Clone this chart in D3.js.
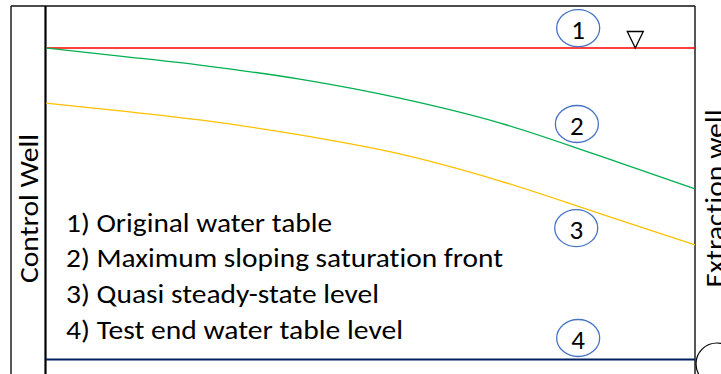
<!DOCTYPE html>
<html>
<head>
<meta charset="utf-8">
<script src="https://cdn.jsdelivr.net/npm/d3@7"></script>
<style>
  html, body { margin: 0; padding: 0; background: #fff; }
  svg { display: block; }
  text { font-family: Carlito, Calibri, Lato, "Open Sans", sans-serif; fill: #000;
         font-variant-ligatures: none; font-feature-settings: "liga" 0, "clig" 0; }
</style>
</head>
<body>
<svg id="chart" width="721" height="374"></svg>
<script>
// ---- data (distance from control well in %, level in % of original head) ----
const distance = [0, 11.4, 23.7, 39.1, 54.5, 70, 85, 100];
const originalTable = [100, 100, 100, 100, 100, 100, 100, 100];
const maxSlopingFront = [100, 97.4, 94.5, 90.0, 83.9, 75.9, 65.6, 54.8];
const quasiSteady = [82.3, 79.8, 76.9, 72.1, 66.0, 57.3, 47.1, 36.8];
const testEndLevel = [0, 0, 0, 0, 0, 0, 0, 0];
const seriesNames = ["1", "2", "3", "4"];
const legendLabels = [
  "1) Original water table",
  "2) Maximum sloping saturation front",
  "3) Quasi steady-state level",
  "4) Test end water table level"
];
const leftWellLabel = "Control Well";
const rightWellLabel = "Extraction well";

// ---- layout ----
const svg = d3.select("#chart");
const x = d3.scaleLinear().domain([0, 100]).range([46, 695]);
const y = d3.scaleLinear().domain([0, 100]).range([359.5, 48]);

// frame
svg.append("line").attr("x1", 11).attr("x2", 695).attr("y1", 6).attr("y2", 6)
  .attr("stroke", "#111").attr("stroke-width", 1.4);
svg.append("line").attr("x1", 11).attr("x2", 11).attr("y1", 6).attr("y2", 374)
  .attr("stroke", "#111").attr("stroke-width", 1.4);
svg.append("line").attr("x1", 695).attr("x2", 695).attr("y1", 6).attr("y2", 374)
  .attr("stroke", "#111").attr("stroke-width", 1.4);
svg.append("line").attr("x1", 45.5).attr("x2", 45.5).attr("y1", 6).attr("y2", 374)
  .attr("stroke", "#000").attr("stroke-width", 2.2);

// series
const series = [
  { name: seriesNames[0], values: originalTable, color: "#FF0000", width: 1.5 },
  { name: seriesNames[1], values: maxSlopingFront, color: "#00B050", width: 1.3 },
  { name: seriesNames[2], values: quasiSteady, color: "#FFC000", width: 1.3 },
  { name: seriesNames[3], values: testEndLevel, color: "#002060", width: 2.2 }
];
const line = d3.line()
  .x(d => x(d[0]))
  .y(d => y(d[1]))
  .curve(d3.curveMonotoneX);

svg.append("g").selectAll("path")
  .data(series)
  .join("path")
  .attr("d", s => line(distance.map((dv, i) => [dv, s.values[i]])))
  .attr("fill", "none")
  .attr("stroke", s => s.color)
  .attr("stroke-width", s => s.width);

// water table symbol (inverted triangle)
const tx = x(90.8), ty = y(100);
svg.append("path")
  .attr("d", `M${tx - 8},${ty - 16.5} L${tx + 8},${ty - 16.5} L${tx},${ty} Z`)
  .attr("fill", "#fff").attr("stroke", "#000").attr("stroke-width", 1.3);

// numbered ellipses
const markerPos = [[82, 106.4], [81.8, 75.6], [81.7, 42.2], [82, 6.9]];
const mk = svg.append("g").selectAll("g")
  .data(series.map((s, i) => ({ name: s.name, pos: markerPos[i] })))
  .join("g")
  .attr("transform", d => `translate(${x(d.pos[0])},${y(d.pos[1])})`);
mk.append("ellipse").attr("rx", 21.5).attr("ry", 18.5)
  .attr("fill", "none").attr("stroke", "#4472C4").attr("stroke-width", 1.3);
mk.append("text").attr("text-anchor", "middle").attr("y", 10.5)
  .attr("font-size", 27).text(d => d.name);

// legend text
const legendWidths = [266, 437, 313, 337];
svg.append("g").selectAll("text")
  .data(legendLabels)
  .join("text")
  .attr("x", 66)
  .attr("y", (d, i) => 231.5 + i * 35.8)
  .attr("font-size", 27)
  .attr("textLength", (d, i) => legendWidths[i])
  .attr("lengthAdjust", "spacingAndGlyphs")
  .text(d => d);

// well labels
svg.append("text")
  .attr("transform", "translate(37.5,208.5) rotate(-90)")
  .attr("text-anchor", "middle")
  .attr("font-size", 27)
  .attr("textLength", 149).attr("lengthAdjust", "spacingAndGlyphs")
  .text(leftWellLabel);
svg.append("text")
  .attr("transform", "translate(724,198.5) rotate(-90)")
  .attr("text-anchor", "middle")
  .attr("font-size", 27)
  .attr("textLength", 178).attr("lengthAdjust", "spacingAndGlyphs")
  .text(rightWellLabel);

// pump circle at extraction well
svg.append("circle").attr("cx", 717).attr("cy", 364).attr("r", 21)
  .attr("fill", "none").attr("stroke", "#000").attr("stroke-width", 1.2);
</script>
</body>
</html>
